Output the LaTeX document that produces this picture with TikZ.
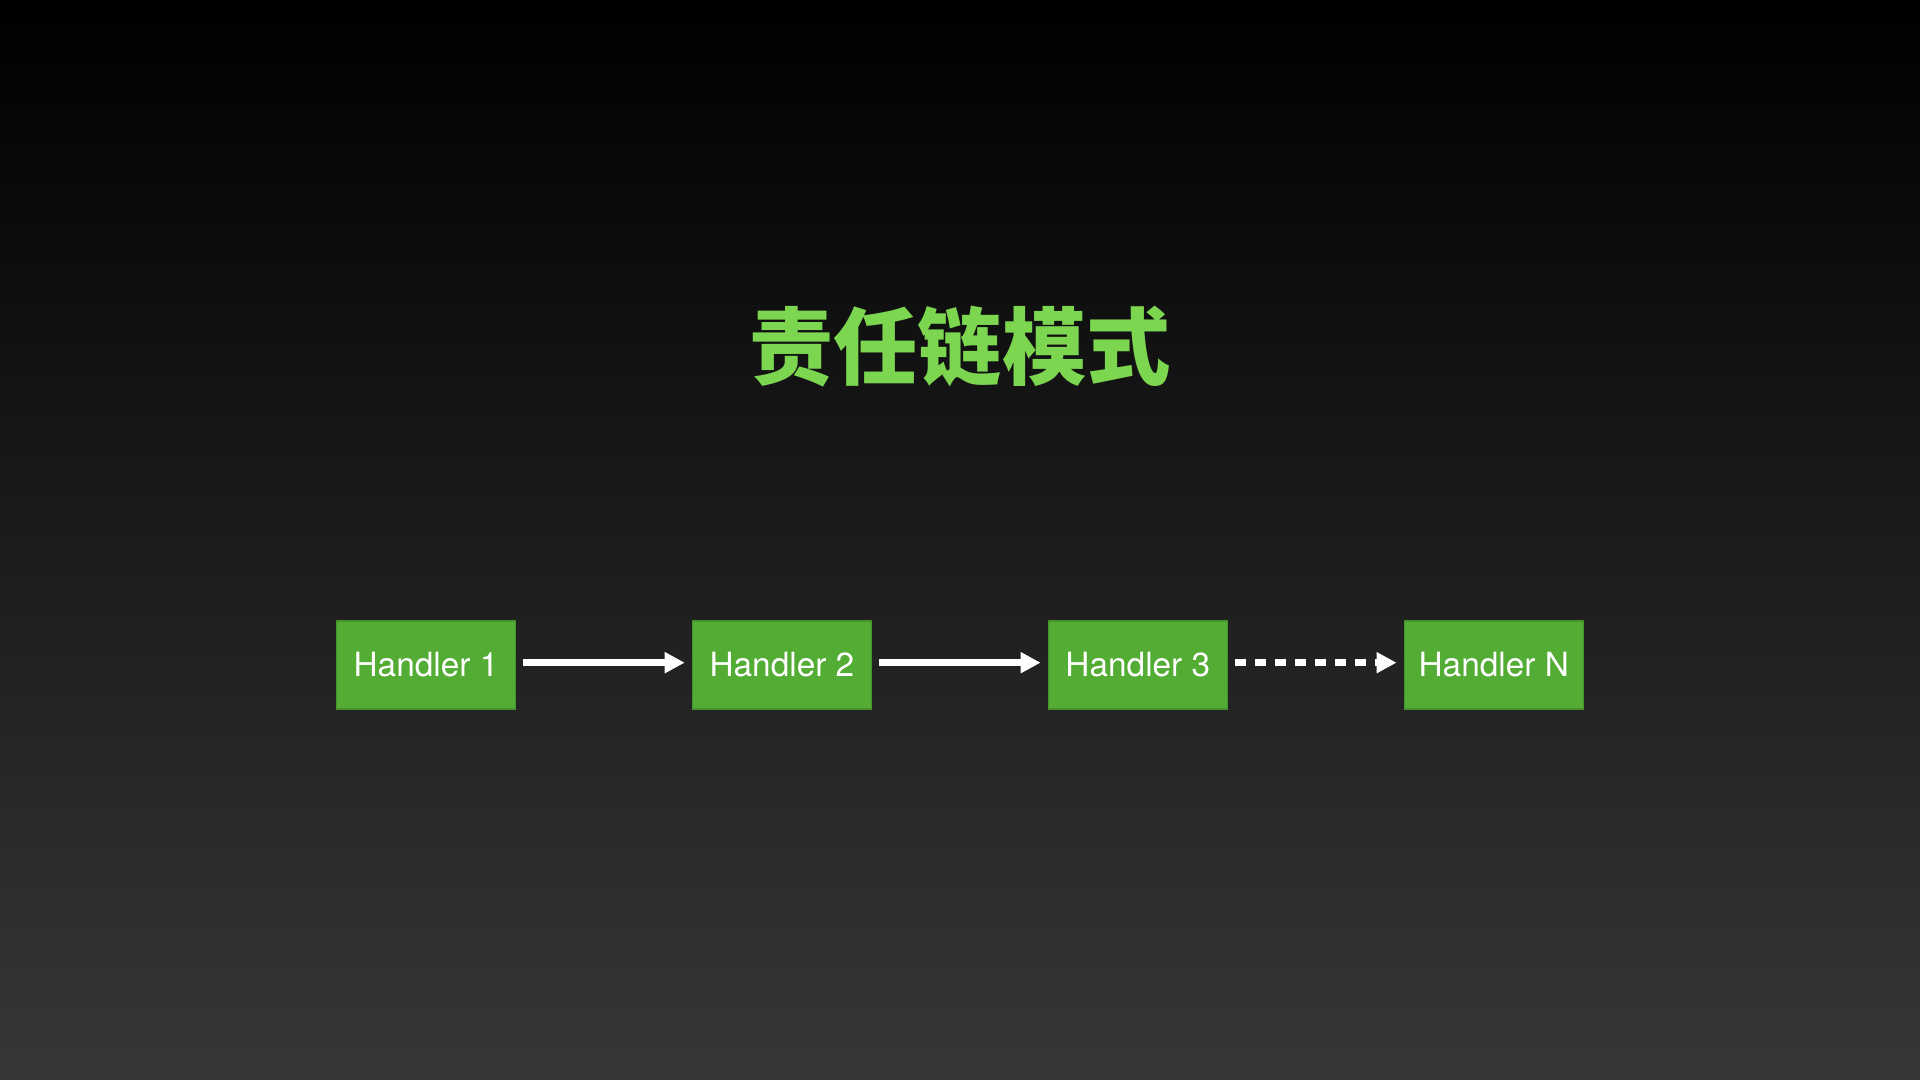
\documentclass[tikz,border=0pt]{standalone}
\usepackage{fontspec}
\setmainfont{TeX Gyre Heros}
\newfontfamily\cjk{Noto Sans CJK SC}
\usetikzlibrary{positioning,arrows.meta}
\definecolor{handlergreen}{RGB}{83,172,52}
\definecolor{titlegreen}{RGB}{124,214,80}
\definecolor{bgbottom}{RGB}{55,55,55}

\begin{document}
\begin{tikzpicture}[
 handler/.style={shape=rectangle, fill=handlergreen, draw=handlergreen!85!black, line width=0.4pt,
   minimum width=1.79cm, minimum height=0.88cm, inner sep=0pt,
   text=white, font=\fontsize{9.5pt}{11pt}\selectfont},
 flow/.style={draw=white, line width=1.9pt, -{Triangle[length=0.2cm, width=0.2cm, fill=white]},
   shorten <=0.07cm, shorten >=0.07cm},
 more/.style={flow, dash pattern=on 0.11cm off 0.09cm},
]

%background
\useasboundingbox (0,0) rectangle (19.2,10.8);
\shade[top color=black, bottom color=bgbottom] (0,0) rectangle (19.2,10.8);

%title
\node (title) at (9.6,7.33) {\cjk\bfseries\fontsize{24pt}{28pt}\selectfont\color{titlegreen}责任链模式};

%chain
\node[handler] (h1) at (4.26,4.15) {Handler 1};
\node[handler, right=1.755cm of h1] (h2) {Handler 2};
\node[handler, right=1.755cm of h2] (h3) {Handler 3};
\node[handler, right=1.755cm of h3] (hn) {Handler N};

\draw[flow] ([yshift=0.023cm]h1.east) -- ([yshift=0.023cm]h2.west);
\draw[flow] ([yshift=0.023cm]h2.east) -- ([yshift=0.023cm]h3.west);
\draw[more] ([yshift=0.023cm]h3.east) -- ([yshift=0.023cm]hn.west);

\end{tikzpicture}
\end{document}
